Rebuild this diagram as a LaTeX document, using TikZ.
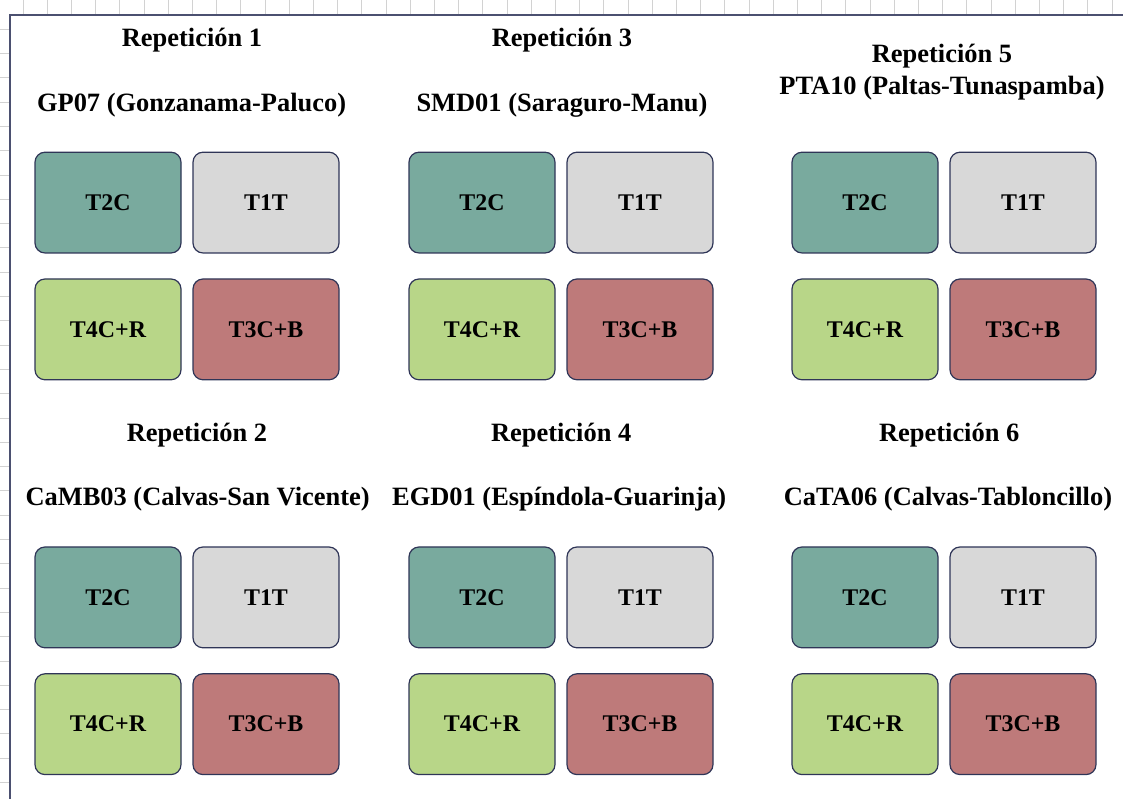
\documentclass[tikz,border=0pt]{standalone}
\usepackage{fontspec}
\setmainfont{Liberation Serif}
\usepackage{xcolor}
\usepackage{tikz}
\usetikzlibrary{positioning}
\definecolor{tdos}{HTML}{79AA9E}
\definecolor{tuno}{HTML}{D8D8D8}
\definecolor{tcuatro}{HTML}{B8D688}
\definecolor{ttres}{HTML}{BE7A7A}
\definecolor{borde}{HTML}{2F3557}
\definecolor{marco}{HTML}{4B5070}
\tikzset{
  lote/.style={draw=borde,line width=0.85pt,rounded corners=0.25cm,minimum width=3.65cm,
    minimum height=2.52cm,inner sep=0pt,outer sep=0pt,font=\bfseries\fontsize{17}{20}\selectfont},
  titulo/.style={anchor=base,inner sep=0pt,font=\bfseries\fontsize{18.8}{22}\selectfont},
  regla/.style={gray!35,line width=0.6pt},
  marcolin/.style={marco,line width=2pt}
}
% four plots of one repetition, T2C at (#2,#3)
\newcommand{\parcela}[3]{%
  \node[lote,fill=tdos] (#1t2) at (#2,#3) {T2C};
  \node[lote,fill=tuno,right=0.3cm of #1t2] (#1t1) {T1T};
  \node[lote,fill=tcuatro,below=0.65cm of #1t2] (#1t4) {T4C+R};
  \node[lote,fill=ttres,right=0.3cm of #1t4] (#1t3) {T3C+B};
}

\begin{document}
\begin{tikzpicture}
\useasboundingbox (0,0) rectangle (28.075,19.975);
% ruler ticks
\foreach \k in {0,...,45}{
  \pgfmathsetmacro{\xx}{0.575+0.605*\k}
  \pgfmathparse{mod(\k+1,4)==0 ? 0.2 : 0.12}
  \draw[regla] (\xx,19.6) -- ++(0,\pgfmathresult);
}
\foreach \j in {-6,...,25}{
  \pgfmathsetmacro{\yy}{(799-175-24.3*\j)/40}
  \pgfmathparse{mod(\j+24,4)==0 ? 0.2 : 0.12}
  \draw[regla] (0.25,\yy) -- ++(-\pgfmathresult,0);
}
\draw[marcolin] (0.25,0) -- (0.25,19.6) -- (28.075,19.6);

% repetitions 1, 3, 5
\node[titulo] (r1) at (4.8,18.8) {Repetición 1};
\node[titulo] (s1) at (4.79,17.175) {GP07 (Gonzanama-Paluco)};
\parcela{a}{2.7}{14.91}
\node[titulo] (r3) at (14.05,18.8) {Repetición 3};
\node[titulo] (s3) at (14.05,17.175) {SMD01 (Saraguro-Manu)};
\parcela{b}{12.05}{14.91}
\node[titulo] (r5) at (23.55,18.4) {Repetición 5};
\node[titulo] (s5) at (23.55,17.6) {PTA10 (Paltas-Tunaspamba)};
\parcela{c}{21.625}{14.91}

% repetitions 2, 4, 6
\node[titulo] (r2) at (4.925,8.925) {Repetición 2};
\node[titulo] (s2) at (4.94,7.325) {CaMB03 (Calvas-San Vicente)};
\parcela{d}{2.7}{5.04}
\node[titulo] (r4) at (14.03,8.925) {Repetición 4};
\node[titulo] (s4) at (13.98,7.325) {EGD01 (Espíndola-Guarinja)};
\parcela{e}{12.05}{5.04}
\node[titulo] (r6) at (23.73,8.925) {Repetición 6};
\node[titulo] (s6) at (23.7,7.325) {CaTA06 (Calvas-Tabloncillo)};
\parcela{f}{21.625}{5.04}
\end{tikzpicture}
\end{document}
